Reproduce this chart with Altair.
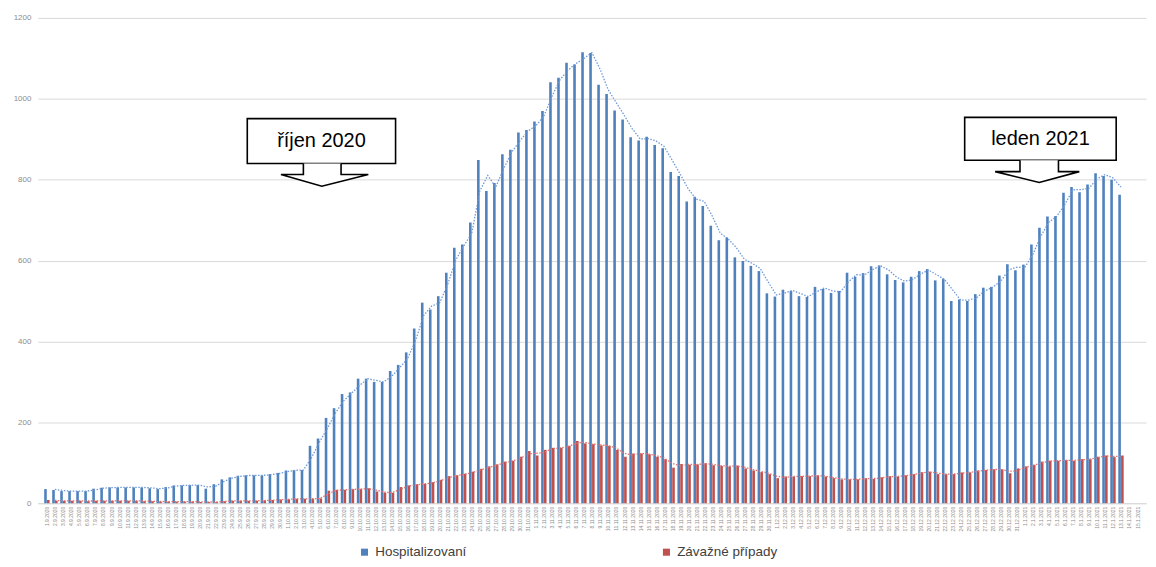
import altair as alt
import pandas as pd
from datetime import date, timedelta

# ---- data (daily, starting 1.9.2020) ----
hosp = [35, 33, 30, 30, 30, 30, 36, 38, 39, 39,
        39, 39, 39, 37, 35, 40, 44, 44, 45, 45,
        36, 47, 59, 64, 68, 69, 69, 69, 72, 75,
        81, 82, 82, 142, 160, 211, 235, 270, 274, 308,
        308, 300, 300, 327, 342, 373, 432, 496, 479, 512,
        570, 632, 640, 694, 849, 772, 792, 863, 874, 917,
        923, 944, 970, 1041, 1052, 1089, 1085, 1115, 1113, 1035,
        1012, 971, 949, 905, 897, 906, 886, 878, 819, 809,
        746, 758, 735, 686, 650, 657, 608, 599, 587, 574,
        519, 511, 528, 525, 512, 510, 535, 530, 520, 525,
        570, 560, 569, 586, 588, 566, 552, 546, 560, 574,
        579, 551, 555, 500, 504, 500, 517, 533, 535, 563,
        591, 576, 590, 640, 681, 709, 710, 768, 782, 769,
        788, 816, 809, 800, 763]
severe = [8, 6, 6, 6, 6, 5, 6, 6, 6, 6,
          6, 6, 5, 5, 4, 4, 4, 4, 4, 3,
          3, 3, 5, 6, 6, 6, 6, 7, 8, 9,
          10, 11, 11, 11, 12, 31, 33, 33, 35, 35,
          37, 29, 26, 26, 40, 44, 47, 48, 52, 58,
          67, 69, 73, 78, 85, 91, 96, 103, 105, 115,
          129, 118, 132, 137, 137, 142, 154, 148, 146, 143,
          142, 132, 115, 123, 123, 121, 115, 109, 88, 97,
          95, 96, 99, 94, 92, 91, 93, 86, 81, 77,
          72, 62, 66, 66, 67, 67, 69, 66, 62, 59,
          59, 59, 62, 60, 64, 67, 66, 69, 72, 77,
          78, 72, 72, 72, 76, 76, 81, 82, 84, 84,
          74, 86, 91, 95, 103, 105, 105, 107, 105, 109,
          109, 115, 118, 114, 118]

series_names = ["Hospitalizovaní", "Závažné případy"]
series_colors = ["#4F81BD", "#C0504D"]
trend_colors = ["#6E9AD8", "#E07270"]

n_categories = 137
start_day = date(2020, 9, 1)
tick_labels = [f"{d.day}.{d.month}.{d.year}"
               for d in (start_day + timedelta(days=k) for k in range(n_categories))]

y_ticks = [0, 200, 400, 600, 800, 1000, 1200]

# callout annotations (in data space: category index / value)
callout_text = ["říjen 2020", "leden 2021"]
callout_x0 = [25.0, 114.5]
callout_x1 = [43.5, 133.4]
callout_y0 = [840, 848]
callout_y1 = [951, 954]
arrow_x = [[32.0, 32.0, 29.2, 34.3, 40.1, 36.7, 36.7],
           [121.4, 121.4, 118.3, 123.8, 128.8, 126.2, 126.2]]
arrow_y = [[840, 813, 813, 784, 813, 813, 840],
           [848, 820, 820, 793, 820, 820, 848]]

# ---- tables ----
df = pd.DataFrame({"i": list(range(len(hosp))), "hosp": hosp, "severe": severe})
box_df = pd.DataFrame({"x0": callout_x0, "x1": callout_x1, "y0": callout_y0,
                       "y1": callout_y1, "label": callout_text,
                       "xc": [(a + b) / 2 for a, b in zip(callout_x0, callout_x1)],
                       "yc": [(a + b) / 2 for a, b in zip(callout_y0, callout_y1)]})
arrow_rows = []
for k, (xs, ys) in enumerate(zip(arrow_x, arrow_y)):
    for j, (ax, ay) in enumerate(zip(xs, ys)):
        arrow_rows.append({"c": k, "o": j, "x": ax, "y": ay})
arrow_df = pd.DataFrame(arrow_rows)

FONT = "Liberation Sans"
label_js = "[" + ",".join("'" + s + "'" for s in tick_labels) + "]"

xscale = alt.Scale(domain=[-0.5, n_categories - 0.5], nice=False, zero=False)
yscale = alt.Scale(domain=[0, 1200], nice=False)
color_scale = alt.Scale(domain=series_names, range=series_colors)

x_axis = alt.Axis(values=list(range(n_categories)), labelExpr=label_js + "[datum.value]",
                  labelAngle=270, labelFontSize=5, labelColor="#8c8c8c", labelFont=FONT,
                  labelOverlap=False, labelFlush=False, labelBound=False, labelSeparation=0,
                  ticks=False, grid=False,
                  domain=True, domainColor="#d9d9d9", title=None, labelPadding=3)
y_axis = alt.Axis(values=y_ticks, format="d", labelFontSize=8, labelColor="#8c8c8c",
                  labelFont=FONT, grid=True, gridColor="#d9d9d9", gridWidth=1,
                  domain=False, ticks=False, labelPadding=7, title=None)


def X(field):
    return alt.X(field, scale=xscale, axis=x_axis)


def Y(field):
    return alt.Y(field, scale=yscale, axis=y_axis)


base = alt.Chart(df)

blue_bars = base.mark_bar(size=2.6, xOffset=-1.4).transform_calculate(
    s="'" + series_names[0] + "'"
).encode(
    x=X("i:Q"),
    y=Y("hosp:Q"),
    color=alt.Color("s:N", scale=color_scale,
                    legend=alt.Legend(title=None, orient="none", direction="horizontal",
                                      legendX=321, legendY=529, symbolType="square",
                                      symbolSize=50, symbolStrokeWidth=0,
                                      labelFontSize=13.5, labelFont=FONT,
                                      labelColor="#404040", columnPadding=193,
                                      labelOffset=4)),
)
red_bars = base.mark_bar(size=2.6, xOffset=1.4).transform_calculate(
    s="'" + series_names[1] + "'"
).encode(
    x=X("i:Q"),
    y=Y("severe:Q"),
    color=alt.Color("s:N", scale=color_scale),
)

blue_trend = base.transform_window(
    t="mean(hosp)", frame=[-1, 0], sort=[alt.SortField("i")]
).transform_filter("datum.i > 0").mark_line(
    color=trend_colors[0], strokeDash=[1.5, 1.5], strokeWidth=1.3
).encode(x=X("i:Q"), y=Y("t:Q"))

red_trend = base.transform_window(
    t="mean(severe)", frame=[-1, 0], sort=[alt.SortField("i")]
).transform_filter("datum.i > 0").mark_line(
    color=trend_colors[1], strokeDash=[1.5, 1.5], strokeWidth=1.3
).encode(x=X("i:Q"), y=Y("t:Q"))

boxes = alt.Chart(box_df).mark_rect(fill="white", stroke="black", strokeWidth=1.6).encode(
    x=X("x0:Q"), x2="x1:Q",
    y=Y("y0:Q"), y2="y1:Q",
)
box_text = alt.Chart(box_df).mark_text(font=FONT, fontSize=20, color="black",
                                       align="center", baseline="middle").encode(
    x=X("xc:Q"), y=Y("yc:Q"), text="label:N"
)
arrows = alt.Chart(arrow_df).mark_line(color="black", strokeWidth=1.6, fill="white").encode(
    x=X("x:Q"), y=Y("y:Q"),
    detail="c:N", order="o:Q",
)

chart = alt.layer(blue_bars, red_bars, blue_trend, red_trend, boxes, arrows, box_text).properties(
    width=1112, height=487,
    autosize=alt.AutoSizeParams(type="none"),
    padding={"left": 30, "top": 9, "right": 2, "bottom": 55},
    background="white",
).configure_view(stroke=None).configure_axisX(labelOverlap=False)

chart.save("out.html", embed_options={"renderer": "svg", "actions": False})
